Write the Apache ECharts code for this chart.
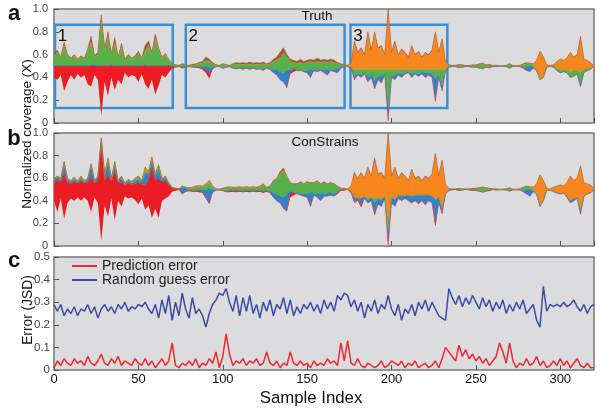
<!DOCTYPE html>
<html><head><meta charset="utf-8">
<script src="https://cdn.jsdelivr.net/npm/echarts@6/dist/echarts.min.js"></script>
<style>html,body{margin:0;padding:0;background:#fff}#c{width:602px;height:414px}</style>
</head><body><div id="c"></div>
<script>
// ---- sample index grid (every 2nd sample) ----
const sampleIndex = Array.from({length:161}, (_, i) => i * 2);
const strainNames = ['red','blue','green','orange','brown'];

// ---- Panel a: Truth (lower envelope + strain thicknesses) ----
const truthBottom = [
0.40,0.38,0.42,0.28,0.36,0.42,0.38,0.43,0.40,0.42,0.34,0.32,0.42,0.38,0.06,0.36,0.24,0.40,0.29,0.38,0.34,0.44,0.40,0.42,0.41,0.36,0.43,0.34,0.30,0.38,0.25,0.33,0.42,0.40,0.44,0.48,
0.49,0.495,0.48,0.49,0.495,0.49,0.485,0.48,0.47,0.44,0.39,0.47,0.495,0.495,0.48,0.49,0.495,0.48,0.475,0.48,0.47,0.48,0.47,0.48,0.47,0.475,0.46,0.48,0.47,0.44,0.42,0.38,0.36,0.31,0.43,0.45,0.46,0.46,0.45,0.44,0.40,0.46,0.45,0.46,0.44,0.42,0.46,0.45,0.44,0.48,0.495,0.495,0.48,
0.38,0.42,0.40,0.43,0.36,0.40,0.30,0.38,0.35,0.42,0.02,0.40,0.38,0.42,0.40,0.43,0.44,0.40,0.43,0.41,0.43,0.40,0.42,0.40,0.19,0.40,0.28,0.46,0.49,
0.495,0.495,0.485,0.49,0.495,0.495,0.49,0.49,0.48,0.475,0.49,0.485,0.495,0.495,0.497,0.497,0.495,0.48,0.497,0.497,0.495,0.48,0.46,0.45,0.48,0.46,0.38,0.40,0.49,0.495,0.49,0.46,0.44,0.45,0.44,0.40,0.41,0.43,0.32,0.44,0.46,0.47,0.50];
const truthRed = [
0.10,0.12,0.08,0.22,0.14,0.08,0.12,0.07,0.10,0.08,0.16,0.18,0.08,0.12,0.44,0.14,0.26,0.10,0.21,0.12,0.16,0.06,0.10,0.08,0.09,0.14,0.07,0.16,0.20,0.12,0.25,0.17,0.08,0.10,0.06,0.02,
0,0,0,0,0, 0,0.005,0.01,0.01,0.03, 0.04,0.01,0,0,0, 0,0,0,0,0, 0,0,0,0,0, 0,0,0,0,0, 0,0,0,0,0.01, 0.03,0,0,0,0, 0,0,0,0,0, 0,0,0,0,0, 0,0,0,
0,0,0,0,0,0,0,0,0,0,0,0,0,0,0,0,0,0,0,0,0,0,0,0,0,0,0,0,0,
0,0,0,0,0,0,0,0,0,0, 0,0,0,0,0,0,0,0,0,0, 0,0,0,0,0,0,0,0,0,0, 0,0,0,0,0,0,0,0,0,0, 0,0,0];
const truthBlue = [
0,0,0,0,0,0,0,0,0,0, 0,0.01,0.01,0,0,0,0,0.01,0,0, 0,0,0,0,0,0,0,0.01,0,0, 0,0,0,0,0,0,
0,0,0.02,0,0, 0,0,0.005,0.01,0.03, 0.06,0.01,0,0,0, 0,0,0,0.005,0, 0.01,0,0.01,0,0.005, 0,0.015,0,0.01,0.03, 0.05,0.07,0.08,0.15,0.03, 0,0,0,0.01,0.02, 0.07,0.01,0.02,0.01,0.03, 0.05,0.01,0.02,0.04,0.01, 0,0,0,
0.03,0.01,0.02,0.01,0.04,0.03,0.07,0.03,0.06,0.02,0.10,0.02,0.03,0.02,0.03,0.01,0.01,0.03,0.01,0.02,0.02,0.04,0.02,0.03,0.20,0.02,0.05,0,0,
0,0,0,0,0,0,0,0,0,0, 0,0,0,0,0,0,0,0,0,0, 0,0.01,0.03,0.05,0.01,0,0,0,0,0, 0,0,0,0,0,0,0,0,0,0, 0,0,0];
const truthGreen = [
0.09,0.12,0.07,0.18,0.09,0.06,0.09,0.05,0.08,0.06,0.13,0.19,0.07,0.10,0.41,0.14,0.26,0.09,0.20,0.07,0.17,0.05,0.09,0.06,0.08,0.11,0.06,0.11,0.18,0.10,0.24,0.14,0.07,0.10,0.05,0.02,
0.02,0.01,0.02,0.02,0.01, 0.015,0.02,0.025,0.035,0.05, 0.05,0.03,0.015,0.01,0.04, 0.02,0.01,0.03,0.035,0.03, 0.035,0.03,0.035,0.03,0.04, 0.035,0.04,0.03,0.035,0.07, 0.08,0.12,0.17,0.12,0.07, 0.05,0.06,0.07,0.06,0.07, 0.07,0.06,0.07,0.06,0.07, 0.06,0.07,0.06,0.04,0.02, 0.015,0.01,0.01,
0.06,0.04,0.05,0.03,0.07,0.04,0.10,0.06,0.06,0.03,0.35,0.05,0.06,0.03,0.04,0.03,0.02,0.04,0.03,0.04,0.02,0.03,0.03,0.04,0.08,0.05,0.14,0.01,0.02,
0.01,0.01,0.02,0.015,0.01,0.01,0.015,0.015,0.03,0.04, 0.015,0.02,0.01,0.01,0.006,0.006,0.01,0.04,0.006,0.006, 0.01,0.02,0.03,0.02,0.02,0,0,0,0,0.005, 0.01,0.02,0.03,0.02,0.03,0.05,0.05,0.03,0.12,0.03, 0.02,0,0];
const truthOrange = [
0,0,0,0,0,0,0,0,0,0, 0,0.01,0,0,0,0,0,0,0,0, 0,0,0,0,0,0,0,0.01,0,0, 0,0,0,0,0,0,
0,0,0,0,0, 0,0,0,0,0, 0,0,0,0,0, 0,0,0,0,0, 0,0,0,0,0, 0,0,0,0,0, 0,0,0,0,0, 0,0,0,0,0, 0,0,0,0,0, 0,0,0,0,0, 0,0,0.03,
0.24,0.14,0.18,0.12,0.31,0.16,0.31,0.18,0.20,0.12,0.51,0.14,0.23,0.12,0.17,0.14,0.10,0.20,0.12,0.15,0.10,0.14,0.12,0.16,0.31,0.14,0.26,0.07,0,
0,0,0,0,0,0,0,0,0,0, 0,0,0,0,0,0,0,0,0,0, 0,0,0,0,0.01,0.09,0.25,0.18,0.02,0.005, 0.01,0.06,0.09,0.08,0.10,0.16,0.12,0.13,0.30,0.09, 0.07,0.06,0];
const truthBrown = [
0.01,0.02,0.01,0.03,0.01,0.01,0.01,0.01,0.01,0.01,0.02,0.05,0.01,0.02,0.04,0.02,0.04,0.01,0.05,0.01,0.03,0.01,0.01,0.01,0.01,0.02,0.01,0.05,0.04,0.02,0.04,0.02,0.01,0.01,0.01,0,
0,0,0,0,0, 0.01,0.01,0.01,0.015,0.03, 0.02,0.01,0,0,0, 0,0,0.01,0.015,0.015, 0.015,0.015,0.02,0.015,0.015, 0.015,0.02,0.01,0.015,0.02, 0.03,0.05,0.05,0.02,0.02, 0.02,0.02,0.03,0.02,0.02, 0.02,0.02,0.03,0.02,0.02, 0.02,0.02,0.02,0.01,0.01, 0,0,0,
0.01,0.01,0.01,0.01,0.02,0.01,0.02,0.01,0.01,0.01,0.02,0.01,0.02,0.01,0.01,0.01,0.01,0.01,0.01,0.01,0.01,0.01,0.01,0.01,0.02,0.01,0.01,0,0,
0,0,0.01,0.005,0,0,0.005,0.005,0.01,0.01, 0.005,0.01,0,0,0,0,0,0,0,0, 0,0.01,0.01,0.005,0,0,0,0,0,0, 0,0,0,0,0,0.01,0,0.01,0.02,0, 0,0,0];

// ---- Panel b: ConStrains ----
const conBottom = [
0.40,0.30,0.42,0.24,0.38,0.42,0.40,0.43,0.40,0.43,0.40,0.30,0.43,0.38,0.04,0.36,0.26,0.42,0.23,0.40,0.35,0.44,0.42,0.43,0.41,0.37,0.42,0.32,0.36,0.25,0.33,0.25,0.40,0.42,0.44,0.48,
0.49,0.495,0.46,0.48,0.485, 0.48,0.48,0.475,0.47,0.42, 0.37,0.47,0.495,0.495,0.49, 0.475,0.475,0.48,0.475,0.48, 0.475,0.48,0.475,0.48,0.475, 0.48,0.47,0.48,0.47,0.43, 0.40,0.38,0.33,0.31,0.43, 0.45,0.46,0.45,0.44,0.43, 0.35,0.45,0.43,0.40,0.44, 0.44,0.45,0.44,0.46,0.49, 0.49,0.495,0.47,
0.38,0.40,0.34,0.42,0.38,0.40,0.27,0.37,0.35,0.42,0.00,0.38,0.35,0.42,0.40,0.42,0.40,0.38,0.40,0.37,0.40,0.36,0.40,0.38,0.17,0.38,0.28,0.46,0.49,
0.495,0.495,0.49,0.495,0.495,0.495,0.49,0.49,0.485,0.475, 0.485,0.49,0.495,0.495,0.497,0.497,0.495,0.485,0.497,0.497, 0.495,0.48,0.46,0.44,0.48,0.46,0.35,0.40,0.49,0.495, 0.48,0.47,0.46,0.47,0.43,0.38,0.40,0.42,0.28,0.44, 0.46,0.47,0.50];
const conRed = [
0.165,0.28,0.145,0.40,0.18,0.13,0.17,0.125,0.175,0.125,0.165,0.305,0.125,0.195,0.87,0.215,0.37,0.145,0.43,0.155,0.215,0.10,0.135,0.115,0.14,0.19,0.125,0.22,0.225,0.44,0.25,0.35,0.165,0.16,0.10,0.03,
0.02,0.01,0,0,0.01, 0.01,0.01,0.015,0.01,0.01, 0.01,0.01,0,0,0, 0.005,0.01,0.01,0.01,0.01, 0.005,0.01,0.01,0.005,0.01, 0.01,0.01,0.01,0,0, 0,0,0,0,0.04, 0.02,0,0,0,0, 0,0,0,0,0, 0,0,0,0.01,0.01, 0.01,0.005,0.01,
0.01,0.005,0.02,0,0,0,0.01,0,0,0,0.01,0,0,0,0,0,0,0,0,0.01,0,0.01,0,0,0.02,0,0.01,0,0,
0,0.005,0,0,0.005,0,0.005,0,0,0, 0,0,0.005,0,0,0,0,0,0,0, 0,0,0,0,0,0,0,0,0,0, 0,0,0,0,0,0,0,0,0,0, 0,0,0];
const conBlue = [
0.02,0.02,0.02,0.08,0.02,0.015,0.02,0.01,0.02,0.01,0.02,0.10,0.01,0.03,0.02,0.04,0.10,0.02,0.05,0.01,0.03,0.01,0.02,0.01,0.02,0.03,0.02,0.10,0.05,0.06,0.04,0.08,0.02,0.02,0.01,0,
0,0,0.06,0.03,0, 0,0,0.01,0.015,0.07, 0.13,0.02,0,0,0, 0.01,0.01,0,0.01,0, 0.01,0,0.005,0,0.01, 0,0.01,0,0.02,0.04, 0.06,0.06,0.10,0.15,0.02, 0,0.01,0.01,0.02,0.03, 0.12,0.02,0.03,0.07,0.02, 0.03,0.02,0.02,0.01,0, 0,0,0,
0.04,0.02,0.06,0.02,0.03,0.03,0.10,0.05,0.06,0.02,0.12,0.05,0.06,0.03,0.04,0.03,0.05,0.06,0.05,0.07,0.05,0.08,0.05,0.06,0.22,0.05,0.04,0,0.01,
0.005,0,0,0,0,0,0,0,0,0, 0,0,0,0,0,0,0,0,0,0, 0,0.01,0.04,0.06,0.01,0,0,0,0,0, 0,0,0,0,0.01,0.02,0.02,0.01,0.02,0, 0,0,0];
const conGreen = [
0.01,0.01,0.01,0.01,0.01,0.01,0.01,0.01,0.015,0.01,0.01,0.01,0.01,0.01,0.01,0.01,0.03,0.01,0.02,0.01,0.02,0.005,0.01,0.01,0.02,0.02,0.01,0.02,0.01,0.02,0.01,0.02,0.01,0.01,0.01,0.01,
0,0,0.01,0.01,0.015, 0.02,0.03,0.025,0.025,0.04, 0.05,0.025,0.01,0,0.02, 0.025,0.025,0.025,0.02,0.025, 0.025,0.025,0.025,0.03,0.02, 0.03,0.05,0.025,0.04,0.10, 0.13,0.20,0.24,0.15,0.07, 0.08,0.08,0.10,0.09,0.10, 0.09,0.09,0.11,0.08,0.10, 0.08,0.09,0.09,0.05,0.01, 0.01,0,0,
0,0,0,0,0.01,0,0.04,0,0,0,0,0,0,0,0,0,0,0,0,0,0,0,0,0,0,0,0,0,0,
0.005,0.005,0.02,0.01,0.005,0.01,0.015,0.02,0.03,0.04, 0.03,0.02,0.005,0.01,0,0.006,0.01,0.03,0,0, 0.01,0.03,0.03,0.015,0.01,0,0,0,0,0, 0,0,0,0,0,0,0,0,0.02,0, 0,0,0];
const conOrange = [
0,0.005,0,0.01,0.005,0,0.005,0,0.005,0,0,0.005,0,0,0.01,0.01,0.01,0,0.01,0,0,0,0,0,0.005,0.005,0,0.03,0.01,0.01,0.005,0.01,0,0.005,0,0,
0,0,0,0,0.005, 0.01,0.01,0.01,0.01,0.01, 0.02,0.005,0,0.01,0, 0.005,0.005,0.005,0.005,0.01, 0.005,0.01,0.005,0.01,0.005, 0.01,0.01,0.005,0,0, 0,0,0,0,0, 0,0,0,0,0, 0,0,0,0,0, 0,0,0,0,0, 0,0.005,0.05,
0.21,0.17,0.22,0.15,0.27,0.18,0.35,0.21,0.23,0.15,0.86,0.18,0.28,0.14,0.20,0.16,0.12,0.23,0.14,0.16,0.12,0.16,0.14,0.19,0.40,0.18,0.42,0.08,0.01,
0,0,0,0,0,0,0,0,0,0, 0,0,0,0,0.006,0,0,0,0.006,0.006, 0,0,0,0.01,0.02,0.09,0.28,0.18,0.02,0.01, 0.04,0.06,0.08,0.06,0.12,0.22,0.16,0.17,0.38,0.12, 0.09,0.07,0];
const conBrown = [
0.005,0.005,0.005,0.01,0.005,0.005,0.005,0.005,0.005,0.005,0.005,0.01,0.005,0.005,0.01,0.005,0.01,0.005,0.01,0.005,0.005,0.005,0.005,0.005,0.005,0.005,0.005,0.01,0.005,0.01,0.005,0.01,0.005,0.005,0,0,
0,0,0,0,0, 0,0,0,0,0, 0,0,0,0,0, 0,0,0,0,0, 0,0,0,0,0, 0,0,0,0,0.01, 0.01,0.02,0.02,0.01,0, 0,0,0.01,0,0.01, 0,0,0.01,0,0.01, 0,0,0,0,0, 0,0,0,
0.01,0.005,0.01,0.01,0.01,0.01,0.01,0.01,0.01,0.01,0.01,0.01,0.01,0.01,0.01,0.01,0.01,0.01,0.01,0.01,0.01,0.01,0.01,0.01,0.01,0.01,0.01,0,0,
0,0,0,0,0,0,0,0,0,0.01, 0,0,0,0,0,0,0,0,0,0, 0,0,0,0,0,0,0,0,0,0, 0,0,0,0,0,0,0,0,0.01,0, 0,0,0];

// ---- Panel c: errors ----
const predError = [
0.01,0.04,0.02,0.05,0.03, 0.02,0.05,0.03,0.04,0.02, 0.06,0.03,0.02,0.04,0.07, 0.03,0.02,0.05,0.03,0.06, 0.02,0.04,0.03,0.02,0.05,
0.03,0.02,0.05,0.02,0.04, 0.01,0.03,0.05,0.02,0.04, 0.12,0.02,0.01,0.03,0.02, 0.04,0.02,0.05,0.01,0.03, 0.02,0.05,0.03,0.08,0.01,
0.06,0.16,0.07,0.02,0.04, 0.03,0.05,0.02,0.04,0.03, 0.05,0.02,0.03,0.08,0.03, 0.02,0.04,0.01,0.03,0.02, 0.08,0.03,0.02,0.04,0.02,
0.03,0.01,0.04,0.02,0.03, 0.02,0.05,0.03,0.04,0.02, 0.12,0.04,0.13,0.03,0.02, 0.05,0.02,0.01,0.03,0.02, 0.01,0.02,0.04,0.01,0.02,
0.04,0.03,0.02,0.04,0.01, 0.03,0.02,0.04,0.01,0.02, 0.03,0.01,0.02,0.04,0.01, 0.05,0.10,0.08,0.06,0.04, 0.11,0.06,0.09,0.05,0.07,
0.04,0.06,0.03,0.05,0.02, 0.04,0.06,0.12,0.08,0.03, 0.12,0.04,0.01,0.03,0.02, 0.05,0.02,0.03,0.06,0.02, 0.04,0.01,0.02,0.04,0.02,
0.05,0.02,0.04,0.01,0.03,0.05,0.02,0.01,0.03,0.01,0.01];
const randError = [
0.29,0.26,0.29,0.24,0.27, 0.25,0.28,0.24,0.27,0.26, 0.29,0.25,0.28,0.23,0.27, 0.29,0.26,0.28,0.25,0.29, 0.27,0.30,0.26,0.28,0.27,
0.29,0.28,0.30,0.27,0.25, 0.29,0.23,0.31,0.25,0.33, 0.22,0.30,0.24,0.34,0.27, 0.23,0.32,0.25,0.27,0.24, 0.19,0.25,0.29,0.31,0.34,
0.33,0.36,0.30,0.26,0.33, 0.24,0.32,0.26,0.33,0.25, 0.29,0.23,0.30,0.26,0.31, 0.24,0.29,0.27,0.32,0.25, 0.31,0.24,0.28,0.25,0.29,
0.27,0.30,0.26,0.29,0.25, 0.31,0.27,0.30,0.26,0.33, 0.31,0.34,0.33,0.28,0.31, 0.26,0.30,0.23,0.29,0.26, 0.31,0.25,0.29,0.27,0.33,
0.27,0.24,0.29,0.22,0.27, 0.25,0.29,0.24,0.30,0.27, 0.31,0.26,0.30,0.27,0.24, 0.23,0.22,0.36,0.32,0.29, 0.33,0.28,0.32,0.29,0.33,
0.30,0.27,0.32,0.28,0.31, 0.26,0.30,0.27,0.31,0.25, 0.29,0.26,0.30,0.27,0.31, 0.25,0.27,0.29,0.22,0.19, 0.37,0.26,0.29,0.28,0.29,
0.28,0.30,0.28,0.29,0.31,0.28,0.26,0.29,0.25,0.28,0.29];

// highlighted regions in panel a: [xStart, xEnd, yBottom, yTop, label]
const boxes = [[0.6, 70.4, 0.132, 0.862, '1'], [78.1, 172.2, 0.132, 0.862, '2'], [175.7, 233.1, 0.132, 0.862, '3']];

const arrs = {truthBottom, truthRed, truthBlue, truthGreen, truthOrange, truthBrown, conBottom, conRed, conBlue, conGreen, conOrange, conBrown, predError, randError};
for (const k in arrs) if (arrs[k].length !== 161) throw new Error(k + ' length ' + arrs[k].length);

const FONT = '"Liberation Sans", Arial, sans-serif';
const colors = {red:'#ec1c24', blue:'#2f84c8', green:'#55b24a', orange:'#f7861f', brown:'#a25638'};

// data as [value, sampleIndex] with encode so the stacked dimension is y
function streamSeries(idx, bottom, layers, stackId, extra) {
  const s = [];
  const common = {type:'line', xAxisIndex: idx, yAxisIndex: idx, stack: stackId, symbol:'none', silent:true,
    encode:{x:1, y:0}};
  s.push(Object.assign({}, common, {lineStyle:{width:0, opacity:0},
    data: sampleIndex.map((x, i) => [bottom[i], x])}, extra || {}));
  strainNames.forEach(n => s.push(Object.assign({}, common, {
    lineStyle:{width:0.5, color:colors[n]}, areaStyle:{color:colors[n], opacity:1},
    data: sampleIndex.map((x, i) => [layers[n][i], x])})));
  return s;
}

const grids = [
  {left:54, right:8, top:9, height:114},
  {left:54, right:8, top:133, height:113},
  {left:54, right:8, top:257, height:113}
].map(g => Object.assign(g, {show:true, backgroundColor:'#dcdcde', borderColor:'#777', borderWidth:1.5}));

const xAxes = [0,1,2].map(i => ({
  type:'value', gridIndex:i, min:0, max:320, interval:50,
  axisLine:{show:false}, splitLine:{show:false},
  axisTick:{show:true, inside:true, length:5, lineStyle:{color:'#555', width:1}},
  axisLabel:{show: i === 2, fontSize:13, color:'#111', margin:3, showMaxLabel:false, fontFamily:FONT}
}));
const yAxes = [0,1].map(i => ({
  type:'value', gridIndex:i, min:0, max:1, interval:0.2,
  axisLine:{show:false}, splitLine:{show:false},
  axisTick:{show:true, inside:true, length:5, lineStyle:{color:'#555', width:1}},
  axisLabel:{fontSize:11, color:'#444', margin:6, fontFamily:FONT, formatter: v => v === 0 ? '0' : v.toFixed(1)}
}));
yAxes.push({
  type:'value', gridIndex:2, min:0, max:0.5, interval:0.1,
  axisLine:{show:false}, splitLine:{show:false},
  axisTick:{show:true, inside:true, length:5, lineStyle:{color:'#555', width:1}},
  axisLabel:{fontSize:11.5, color:'#444', margin:4, fontFamily:FONT, formatter: v => v === 0 ? '0' : v.toFixed(1)}
});

const boxMark = {
  markArea: {
    silent:true,
    itemStyle:{color:'rgba(0,0,0,0)', borderColor:'#3b8fd6', borderWidth:2.5},
    label:{show:true, position:'insideTopLeft', distance:4, fontSize:17, color:'#111', fontFamily:FONT},
    data: boxes.map(b => [{name:b[4], xAxis:b[0], yAxis:b[3]}, {xAxis:b[1], yAxis:b[2]}])
  }
};

const series = [].concat(
  streamSeries(0, truthBottom, {red:truthRed, blue:truthBlue, green:truthGreen, orange:truthOrange, brown:truthBrown}, 'truth', boxMark),
  streamSeries(1, conBottom, {red:conRed, blue:conBlue, green:conGreen, orange:conOrange, brown:conBrown}, 'con'),
  [
    {name:'Prediction error', type:'line', xAxisIndex:2, yAxisIndex:2, symbol:'none', silent:true,
     lineStyle:{width:1.5, color:'#ee2a2e'}, itemStyle:{color:'#ee2a2e'}, data: sampleIndex.map((x, i) => [x, predError[i]])},
    {name:'Random guess error', type:'line', xAxisIndex:2, yAxisIndex:2, symbol:'none', silent:true,
     lineStyle:{width:1.5, color:'#3b4ba6'}, itemStyle:{color:'#3b4ba6'}, data: sampleIndex.map((x, i) => [x, randError[i]])}
  ]
);

const txt = (x, y, text, size, opts) => ({type:'text', x, y, rotation:(opts && opts.rot) || 0,
  style:{text, fontSize:size, fontFamily:FONT, fontWeight:(opts && opts.bold) ? 'bold' : 'normal', fill:'#111', align:'center', verticalAlign:'middle'}});

const chart = echarts.init(document.getElementById('c'), null, {renderer:'canvas'});
chart.setOption({
  animation:false,
  backgroundColor:'#fff',
  textStyle:{fontFamily:FONT},
  grid: grids, xAxis: xAxes, yAxis: yAxes, series,
  legend:{show:true, orient:'vertical', left:72, top:259, icon:'rect', itemWidth:25, itemHeight:2, itemGap:0, padding:0,
    textStyle:{fontSize:14, color:'#222', lineHeight:14, fontFamily:FONT},
    data:['Prediction error','Random guess error']},
  graphic:[
    txt(14, 14, 'a', 22, {bold:true}),
    txt(14, 139, 'b', 22, {bold:true}),
    txt(14, 261, 'c', 22, {bold:true}),
    txt(317, 16, 'Truth', 13.5),
    txt(325, 142, 'ConStrains', 13.5),
    txt(27, 134, 'Normalized coverage (X)', 13.5, {rot:Math.PI/2}),
    txt(28, 310, 'Error (JSD)', 13.8, {rot:Math.PI/2}),
    txt(311, 398, 'Sample Index', 16.8)
  ]
});
</script></body></html>
